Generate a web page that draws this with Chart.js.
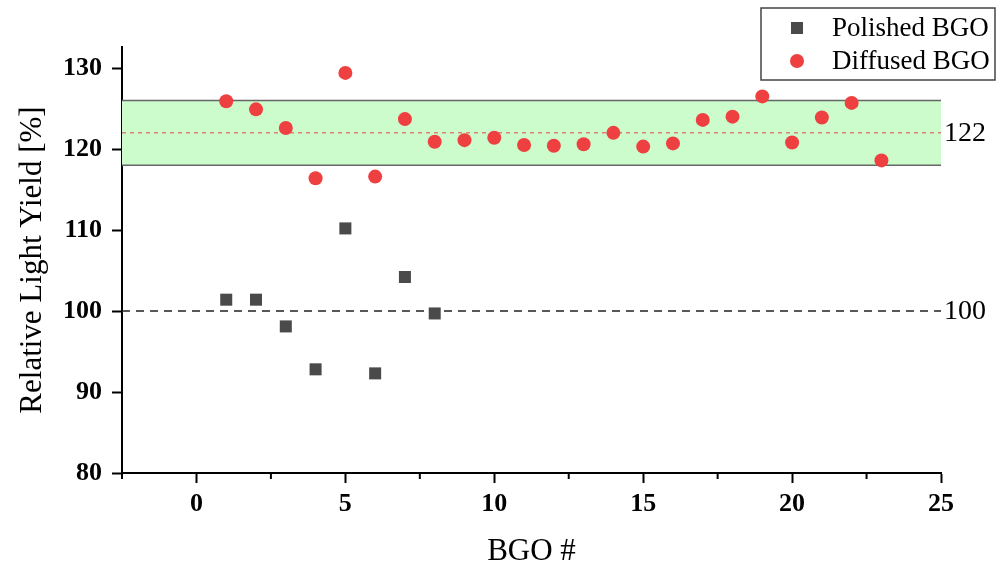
<!DOCTYPE html>
<html>
<head>
<meta charset="utf-8">
<script src="https://cdn.jsdelivr.net/npm/chart.js@4.4.1/dist/chart.umd.min.js"></script>
<style>
  html, body { margin: 0; padding: 0; background: #fff; }
  canvas { display: block; }
</style>
</head>
<body>
<canvas id="chart" width="1002" height="566"></canvas>
<script>
// BGO crystal numbers and relative light yield [%]
const polishedIds = [1, 2, 3, 4, 5, 6, 7, 8];
const polishedYield = [101.4, 101.4, 98.1, 92.8, 110.2, 92.3, 104.2, 99.7];

const diffusedIds = [1, 2, 3, 4, 5, 6, 7, 8, 9, 10, 11, 12, 13, 14, 15, 16, 17, 18, 19, 20, 21, 22, 23];
const diffusedYield = [125.9, 124.9, 122.6, 116.4, 129.4, 116.6, 123.7, 120.9, 121.1, 121.4, 120.5, 120.4,
  120.6, 122.0, 120.3, 120.7, 123.6, 124.0, 126.5, 120.8, 123.9, 125.7, 118.6];

const xTicks = [0, 5, 10, 15, 20, 25];
const xMinorTicks = [-2.5, 2.5, 7.5, 12.5, 17.5, 22.5];
const yTicks = [80, 90, 100, 110, 120, 130];

const refLevel = 100;
const diffusedMean = 122;
const diffusedBand = [118, 126];

const serif = '"Liberation Serif", "Times New Roman", serif';

function toPoints(xs, ys) {
  return xs.map((x, i) => ({ x, y: ys[i] }));
}

function dashedLine(ctx, x0, x1, y, color, width, dash) {
  ctx.beginPath();
  ctx.setLineDash(dash);
  ctx.strokeStyle = color;
  ctx.lineWidth = width;
  ctx.moveTo(x0, y);
  ctx.lineTo(x1, y);
  ctx.stroke();
  ctx.setLineDash([]);
}

const overlay = {
  id: 'overlay',
  beforeDatasetsDraw(chart) {
    const { ctx, chartArea: a, scales: { y } } = chart;
    const yHi = y.getPixelForValue(diffusedBand[1]);
    const yLo = y.getPixelForValue(diffusedBand[0]);
    const yMean = y.getPixelForValue(diffusedMean);
    const yRef = y.getPixelForValue(refLevel);
    ctx.save();
    ctx.fillStyle = '#ccfccc';
    ctx.fillRect(a.left, yHi, a.right - a.left, yLo - yHi);
    dashedLine(ctx, a.left, a.right, yHi, '#666', 1.5, []);
    dashedLine(ctx, a.left, a.right, yLo, '#666', 1.5, []);
    dashedLine(ctx, a.left, a.right, yMean, '#e04848', 1, [4, 4]);
    dashedLine(ctx, a.left, a.right, yRef, '#222', 1.5, [8, 6]);

    ctx.fillStyle = '#000';
    ctx.font = `28px ${serif}`;
    ctx.textAlign = 'left';
    ctx.textBaseline = 'middle';
    ctx.fillText(String(diffusedMean), a.right + 3, yMean + 1);
    ctx.fillText(String(refLevel), a.right + 3, yRef + 1);
    ctx.restore();
  },
  afterDraw(chart) {
    const { ctx, chartArea: a, scales: { x } } = chart;
    ctx.save();
    // minor ticks on x
    ctx.strokeStyle = '#000';
    ctx.lineWidth = 2;
    xMinorTicks.forEach((v) => {
      const px = x.getPixelForValue(v);
      ctx.beginPath();
      ctx.moveTo(px, a.bottom);
      ctx.lineTo(px, a.bottom + 6);
      ctx.stroke();
    });

    // legend box
    const bx = 761, by = 8, bw = 234, bh = 72;
    ctx.fillStyle = '#fff';
    ctx.fillRect(bx, by, bw, bh);
    ctx.strokeStyle = '#444';
    ctx.lineWidth = 1.5;
    ctx.strokeRect(bx, by, bw, bh);

    const items = chart.data.datasets;
    ctx.font = `27px ${serif}`;
    ctx.textAlign = 'left';
    ctx.textBaseline = 'middle';
    items.forEach((ds, i) => {
      const cy = by + 20 + i * 33;
      ctx.fillStyle = ds.backgroundColor;
      if (ds.pointStyle === 'rect') {
        ctx.fillRect(797 - 6, cy - 6, 12, 12);
      } else {
        ctx.beginPath();
        ctx.arc(797, cy, 7, 0, Math.PI * 2);
        ctx.fill();
      }
      ctx.fillStyle = '#000';
      ctx.fillText(ds.label, 832, cy + 1);
    });
    ctx.restore();
  }
};

function buildChart() {
  const el = document.getElementById('chart');
  const tickFont = { family: serif, size: 26, weight: 'bold' };
  const titleFont = { family: serif, size: 31 };

  return new Chart(el, {
    type: 'scatter',
    data: {
      datasets: [
        {
          label: 'Polished BGO',
          data: toPoints(polishedIds, polishedYield),
          pointStyle: 'rect',
          pointRadius: 8.5,
          backgroundColor: '#4a4a4a',
          borderColor: '#4a4a4a',
          borderWidth: 0
        },
        {
          label: 'Diffused BGO',
          data: toPoints(diffusedIds, diffusedYield),
          pointStyle: 'circle',
          pointRadius: 7,
          backgroundColor: '#ee4040',
          borderColor: '#ee4040',
          borderWidth: 0
        }
      ]
    },
    options: {
      responsive: false,
      animation: false,
      layout: { padding: { left: 0, right: 61, top: 47, bottom: 0 } },
      plugins: { legend: { display: false }, tooltip: { enabled: false } },
      scales: {
        x: {
          type: 'linear',
          min: -2.5,
          max: 25,
          afterBuildTicks: (s) => { s.ticks = xTicks.map((v) => ({ value: v })); },
          afterFit: (s) => { s.height = 93; },
          border: { color: '#000', width: 2 },
          grid: { drawOnChartArea: false, drawTicks: true, tickLength: 10, tickWidth: 2, tickColor: '#000' },
          ticks: { color: '#000', font: tickFont, padding: 6, maxRotation: 0 },
          title: { display: true, text: 'BGO #', color: '#000', font: titleFont, padding: { top: 0, bottom: -4 } }
        },
        y: {
          type: 'linear',
          min: 80,
          max: 132.6,
          afterBuildTicks: (s) => { s.ticks = yTicks.map((v) => ({ value: v })); },
          afterFit: (s) => { s.width = 122; },
          border: { color: '#000', width: 2 },
          grid: { drawOnChartArea: false, drawTicks: true, tickLength: 10, tickWidth: 2, tickColor: '#000' },
          ticks: { color: '#000', font: tickFont, padding: 10 },
          title: { display: true, text: 'Relative Light Yield [%]', color: '#000', font: titleFont, padding: { top: 14, bottom: 0 } }
        }
      }
    },
    plugins: [overlay]
  });
}

buildChart();
</script>
</body>
</html>
